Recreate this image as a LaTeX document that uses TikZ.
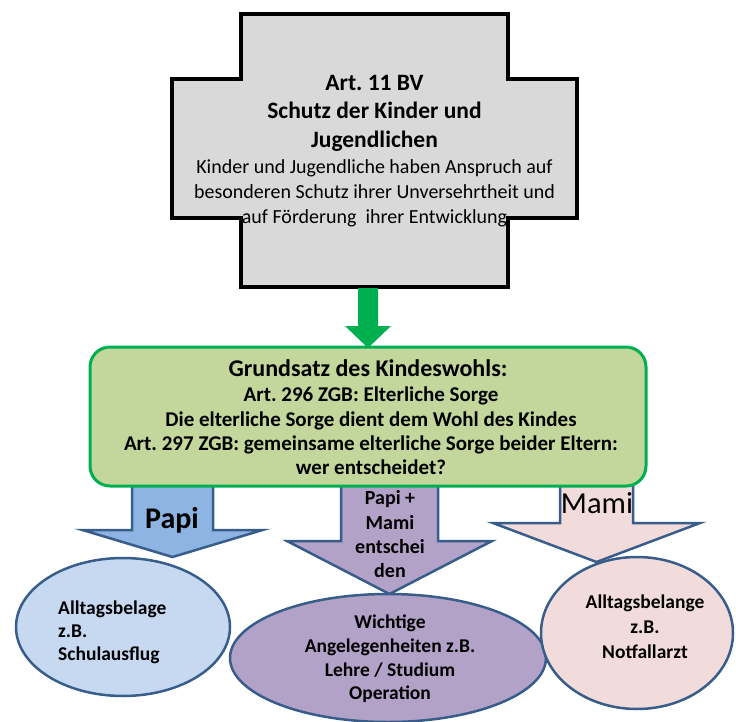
\documentclass[tikz,border=0pt]{standalone}
\usepackage{fontspec}
\setmainfont{Carlito}
\usetikzlibrary{shapes.geometric}
\frenchspacing
\definecolor{crossgray}{HTML}{D9D9D9}
\definecolor{okgreen}{HTML}{00B050}
\definecolor{boxfill}{HTML}{C3D69B}
\definecolor{outl}{HTML}{385D8A}
\definecolor{papiblue}{HTML}{8DB4E2}
\definecolor{lightblue}{HTML}{C6D9F1}
\definecolor{lilac}{HTML}{B3A2C7}
\definecolor{rose}{HTML}{F2DCDB}
\newcommand{\blockdown}[7]{%
  \draw[#1] (#2-#4,#3) -- (#2+#4,#3) -- (#2+#4,#5) -- (#2+#6,#5) -- (#2,#7)
    -- (#2-#6,#5) -- (#2-#4,#5) -- cycle;}
\begin{document}
\begin{tikzpicture}[x=1pt,y=-1pt,
  shapeline/.style={draw=outl,line width=2.5pt,line join=miter},
  txt/.style={inner sep=0pt,align=center,text=black},
  bodyb/.style={txt,font=\bfseries\fontsize{19.5}{24}\selectfont},
  oval/.style={ellipse,shapeline,inner sep=0pt}]
\useasboundingbox (0,0) rectangle (736,722);
% cross
\draw[fill=crossgray,draw=black,line width=3.8pt,line join=miter]
  (241,14) -- (508,14) -- (508,79) -- (577,79) -- (577,218) -- (508,218)
  -- (508,287) -- (241,287) -- (241,218) -- (172,218) -- (172,79) -- (241,79) -- cycle;
\node[txt,font=\bfseries\fontsize{23.5}{28.5}\selectfont] (ctitle) at (374.5,113)
  {Art. 11 BV\\Schutz der Kinder und\\Jugendlichen};
\node[txt,font=\fontsize{20}{25}\selectfont] (cbody) at (374.5,193)
  {Kinder und Jugendliche haben Anspruch auf\\besonderen Schutz ihrer Unversehrtheit und\\auf Förderung\ \ ihrer Entwicklung};
% green arrow
\blockdown{fill=okgreen,draw=none}{368}{288}{10}{326}{23}{348}
% lower block arrows
\blockdown{shapeline,fill=papiblue}{172.5}{484}{40.5}{530}{90}{557}
\blockdown{shapeline,fill=lilac}{389.5}{484}{48.5}{541}{102.5}{594}
\blockdown{shapeline,fill=rose}{596.5}{484}{36.5}{523}{103.5}{562}
% green box
\node[draw=okgreen,line width=3pt,fill=boxfill,rounded corners=20pt,
  minimum width=556pt,minimum height=139pt,inner sep=0pt] (box) at (368,416.5) {};
\node[txt,font=\bfseries\fontsize{24}{28}\selectfont] (btitle) at (368,368)
  {Grundsatz des Kindeswohls:};
\node[txt,font=\bfseries\fontsize{21}{24.2}\selectfont] (bbody) at (371,431)
  {Art. 296 ZGB: Elterliche Sorge\\Die elterliche Sorge dient dem Wohl des Kindes\\Art. 297 ZGB: gemeinsame elterliche Sorge beider Eltern:\\wer entscheidet?};
% arrow labels
\node[txt,font=\bfseries\fontsize{30}{36}\selectfont] (papi) at (172,520) {Papi};
\node[txt,font=\bfseries\fontsize{20}{24.3}\selectfont] (both) at (390,534.5)
  {Papi +\\Mami\\entschei\\den};
\node[txt,font=\fontsize{30.5}{36}\selectfont] (mami) at (597,503) {Mami};
% ellipses
\node[oval,fill=lightblue,minimum width=214pt,minimum height=138pt] (e1) at (123,627) {};
\node[oval,fill=lilac,minimum width=316pt,minimum height=128pt] (e2) at (388,658) {};
\node[oval,fill=rose,minimum width=192pt,minimum height=152pt] (e3) at (637,633) {};
\node[bodyb,align=left,anchor=west,font=\bfseries\fontsize{19.5}{23}\selectfont] (t1) at (58,632)
  {Alltagsbelage\\z.B.\\Schulausflug};
\node[bodyb,font=\bfseries\fontsize{19.5}{23.7}\selectfont] (t2) at (390,659)
  {Wichtige\\Angelegenheiten z.B.\\Lehre / Studium\\Operation};
\node[bodyb,font=\bfseries\fontsize{19.5}{25}\selectfont] (t3) at (645,626.5)
  {Alltagsbelange\\z.B.\\Notfallarzt};
\end{tikzpicture}
\end{document}
